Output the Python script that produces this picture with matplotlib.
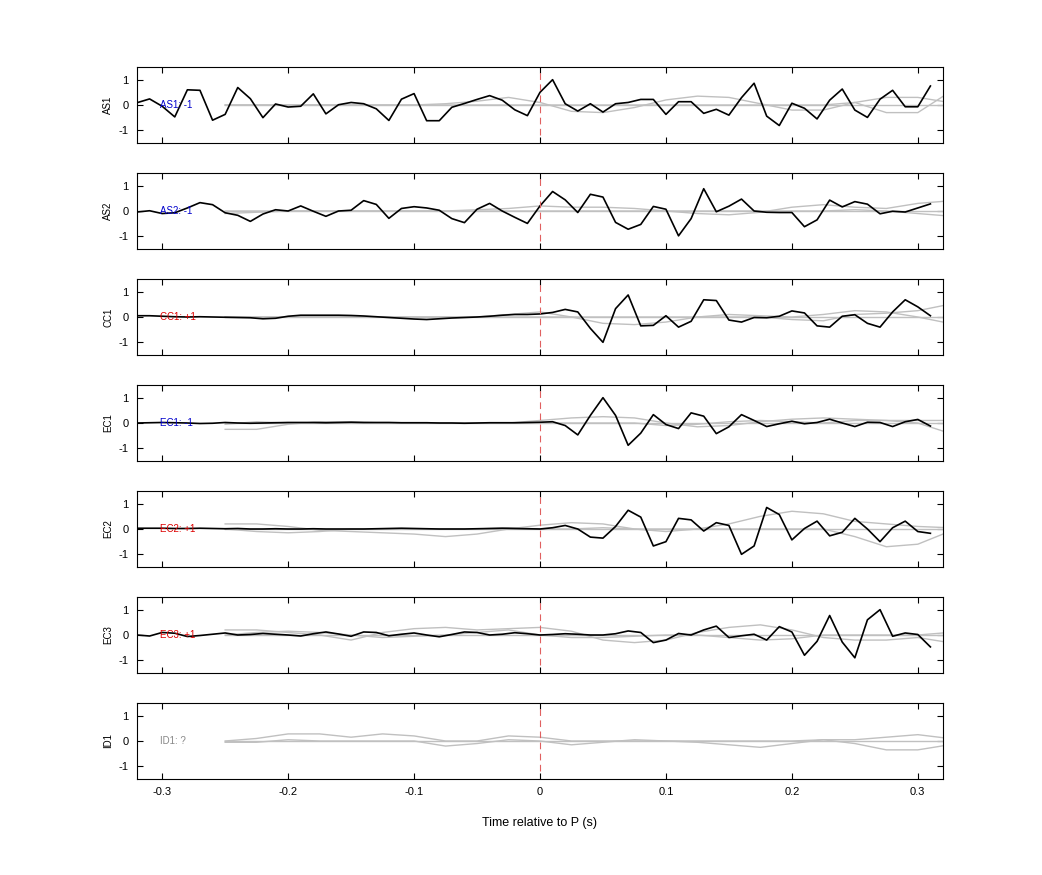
import numpy as np
import matplotlib
matplotlib.use("Agg")
import matplotlib.pyplot as plt

plt.rcParams['font.family'] = ['Liberation Sans', 'DejaVu Sans']
plt.rcParams['axes.unicode_minus'] = False

t = np.round(np.arange(-32, 32) * 0.01, 2)          # black trace samples
tg = np.round(np.arange(-10, 14) * 0.025, 3)        # gray trace samples

stations = ["AS1", "AS2", "CC1", "EC1", "EC2", "EC3", "ID1"]
polarity = ["-1", "-1", "+1", "-1", "+1", "+1", "?"]
label_colors = ["#0000cc", "#0000cc", "#dd0000", "#0000cc", "#dd0000", "#dd0000", "#888888"]

as1 = [0.09, 0.24, -0.05, -0.47, 0.6, 0.58, -0.6, -0.37, 0.69, 0.25, -0.5, 0.04, -0.08, -0.05, 0.44, -0.35,
       0.01, 0.1, 0.05, -0.15, -0.61, 0.23, 0.45, -0.62, -0.62, -0.09, 0.06, 0.22, 0.37, 0.19, -0.19, -0.42,
       0.5, 1.0, 0.05, -0.24, 0.05, -0.28, 0.05, 0.1, 0.22, 0.22, -0.37, 0.13, 0.13, -0.33, -0.17, -0.4,
       0.29, 0.86, -0.44, -0.81, 0.07, -0.13, -0.55, 0.19, 0.63, -0.2, -0.49, 0.23, 0.58, -0.07, -0.07, 0.75]
as2 = [-0.04, 0.01, -0.1, -0.07, 0.12, 0.33, 0.25, -0.07, -0.17, -0.41, -0.12, 0.05, 0.0, 0.2, -0.01, -0.21,
       0.0, 0.03, 0.41, 0.26, -0.29, 0.1, 0.17, 0.12, 0.03, -0.3, -0.46, 0.07, 0.3, 0.0, -0.25, -0.49,
       0.2, 0.77, 0.44, -0.06, 0.66, 0.55, -0.45, -0.72, -0.53, 0.18, 0.07, -0.98, -0.3, 0.88, -0.03, 0.19,
       0.47, 0.0, -0.05, -0.06, -0.06, -0.62, -0.35, 0.43, 0.16, 0.37, 0.27, -0.11, -0.01, -0.04, 0.12, 0.28]
cc1 = [0.05, 0.05, 0.03, 0.01, 0.0, 0.01, 0.0, -0.01, -0.02, -0.03, -0.07, -0.05, 0.03, 0.07, 0.07, 0.07,
       0.07, 0.06, 0.04, 0.01, -0.02, -0.05, -0.08, -0.1, -0.07, -0.04, -0.02, 0.0, 0.03, 0.07, 0.1, 0.1,
       0.12, 0.18, 0.3, 0.2, -0.45, -1.0, 0.33, 0.87, -0.35, -0.33, 0.05, -0.4, -0.17, 0.68, 0.65, -0.12,
       -0.2, -0.02, -0.03, 0.03, 0.24, 0.16, -0.35, -0.4, 0.03, 0.09, -0.25, -0.4, 0.2, 0.68, 0.4, 0.05]
ec1 = [0.0, 0.01, 0.02, 0.01, 0.0, -0.02, -0.01, 0.02, 0.0, -0.01, 0.0, 0.01, 0.02, 0.02, 0.02, 0.01,
       0.02, 0.03, 0.02, 0.02, 0.02, 0.01, 0.01, 0.01, 0.0, 0.0, -0.01, 0.0, 0.01, 0.01, 0.01, 0.02,
       0.03, 0.05, -0.1, -0.47, 0.3, 1.0, 0.3, -0.88, -0.4, 0.33, -0.06, -0.22, 0.4, 0.27, -0.42, -0.15,
       0.33, 0.1, -0.14, -0.03, 0.07, -0.03, 0.02, 0.15, 0.0, -0.14, 0.03, 0.02, -0.14, 0.05, 0.14, -0.12]
ec2 = [0.03, 0.03, 0.03, 0.02, 0.02, 0.03, 0.02, 0.01, 0.02, 0.0, 0.0, 0.01, 0.0, 0.0, 0.01, 0.0,
       0.0, 0.0, 0.0, 0.01, 0.02, 0.03, 0.02, 0.01, 0.0, 0.0, 0.0, 0.01, 0.02, 0.03, 0.02, 0.01,
       0.0, 0.05, 0.14, 0.0, -0.32, -0.36, 0.1, 0.74, 0.47, -0.67, -0.5, 0.42, 0.36, -0.08, 0.25, 0.14,
       -1.0, -0.67, 0.85, 0.57, -0.43, 0.02, 0.31, -0.27, -0.13, 0.42, 0.0, -0.5, 0.05, 0.31, -0.1, -0.17]
ec3 = [0.0, -0.04, 0.1, 0.07, -0.06, -0.02, 0.03, 0.08, 0.0, 0.02, 0.06, 0.03, 0.0, -0.04, 0.05, 0.12,
       0.04, -0.05, 0.12, 0.1, -0.03, 0.03, 0.08, 0.0, -0.07, 0.02, 0.12, 0.1, 0.0, 0.03, 0.09, 0.05,
       0.0, 0.02, 0.05, 0.03, 0.0, 0.0, 0.05, 0.16, 0.1, -0.3, -0.2, 0.06, 0.0, 0.2, 0.35, -0.1,
       -0.03, 0.03, -0.2, 0.33, 0.12, -0.8, -0.25, 0.77, -0.28, -0.9, 0.6, 1.0, -0.05, 0.08, 0.02, -0.47]
black = [as1, as2, cc1, ec1, ec2, ec3, None]

gray_a = [
    [0, 0, 0, 0, 0, 0, 0, 0.05, 0.15, 0.3, 0.1, -0.25, -0.3, -0.1, 0.2, 0.35, 0.3, 0.05, -0.2, -0.2, 0.1, 0.3, 0.3, 0.1],
    [-0.1, -0.05, 0, 0, 0, 0, 0, 0, 0.05, 0.1, 0.2, 0.15, 0.15, 0.1, 0.0, -0.1, -0.15, -0.05, 0.15, 0.25, 0.15, 0.1, 0.3, 0.4],
    [0, 0, 0, 0, 0, 0, 0, 0, 0, 0.1, 0.2, 0.0, -0.25, -0.3, -0.2, 0.0, 0.1, 0.05, 0.0, 0.1, 0.25, 0.2, 0.0, -0.25],
    [-0.25, -0.25, -0.05, 0.05, 0.05, 0, 0, 0, 0, 0, 0.1, 0.2, 0.25, 0.2, 0.0, -0.15, -0.1, 0.05, 0.15, 0.2, 0.15, 0.1, 0.0, -0.4],
    [0.2, 0.2, 0.1, -0.05, -0.1, -0.15, -0.2, -0.3, -0.2, 0.0, 0.15, 0.25, 0.2, 0.0, -0.1, 0.0, 0.2, 0.5, 0.7, 0.6, 0.3, 0.2, 0.1, 0.05],
    [0.2, 0.2, 0.1, 0.0, -0.2, 0.1, 0.25, 0.3, 0.2, 0.25, 0.3, 0.15, -0.2, -0.3, -0.2, 0.1, 0.3, 0.4, 0.2, -0.1, -0.2, -0.2, -0.1, -0.3],
    [0, 0.1, 0.28, 0.28, 0.15, 0.28, 0.2, 0.0, 0.0, 0.2, 0.15, 0, 0, 0, 0, -0.05, -0.15, -0.25, -0.1, 0.05, 0.05, 0.15, 0.25, 0.1],
]
gray_b = [
    [0, 0, 0, 0, 0, 0, 0, 0, 0, 0, 0, 0, 0, 0, 0, 0, 0, 0, 0, 0, 0.1, -0.3, -0.3, 0.5],
    [0, 0, 0, 0, 0, 0, 0, 0, 0, 0, 0, 0, 0, 0, 0, 0, 0, 0, 0, 0, 0.05, 0.0, -0.1, -0.2],
    [0, 0, 0, 0, 0, 0, 0, 0, 0, 0, 0, 0, 0, 0, 0, 0, 0, 0, -0.1, -0.15, 0.1, 0.15, 0.25, 0.5],
    [-0.05, 0.05, 0.0, 0, 0, 0, 0, 0, 0, 0, 0, 0, 0, 0, -0.1, -0.05, 0.05, 0.1, 0.05, 0, 0.1, 0.1, 0.1, 0.1],
    [0, -0.1, -0.15, -0.1, 0, 0, 0, 0, 0, 0.05, 0.0, 0.0, 0.05, 0.0, 0, 0, 0, 0, 0, 0, -0.3, -0.7, -0.6, -0.1],
    [0, 0.1, 0.15, 0.1, 0, -0.1, -0.05, 0, 0.1, 0.2, 0.0, -0.1, -0.1, -0.05, 0, 0, -0.1, -0.2, -0.15, 0, 0, 0, 0, 0.1],
    [-0.05, -0.05, 0.05, 0.0, 0.0, 0.0, 0.0, -0.2, -0.1, 0.05, 0, -0.15, -0.05, 0.05, 0.0, 0, 0, 0, 0, 0.05, -0.1, -0.35, -0.35, -0.15],
]
flat = [0.0] * len(tg)

fig = plt.figure(figsize=(10.42, 8.75), dpi=100)
W, H = 1042, 875
left, right = 137, 943
for i, name in enumerate(stations):
    top = 67 + i * 106
    ax = fig.add_axes([left / W, 1 - (top + 76) / H, (right - left) / W, 76 / H])
    for g in (flat, gray_b[i], gray_a[i]):
        ax.plot(tg, g, color="#c0c0c0", lw=1)
    if black[i] is not None:
        ax.plot(t, black[i], color="black", lw=1.2)
    ax.plot([0, 0], [-1.2, 1.35], color="#e06060", lw=0.8, dashes=(6, 4))
    ax.text(-0.302, 0, f"{name}: {polarity[i]}", color=label_colors[i], fontsize=7, va="center")
    ax.set_xlim(-0.32, 0.32)
    ax.set_ylim(-1.5, 1.5)
    ax.set_yticks([-1, 0, 1])
    ax.set_xticks([-0.3, -0.2, -0.1, 0, 0.1, 0.2, 0.3])
    ax.tick_params(direction="in", top=True, right=True, labelsize=8, length=4, pad=6)
    ax.set_ylabel(name, fontsize=7)
    if i < len(stations) - 1:
        ax.set_xticklabels([])
    else:
        ax.set_xticklabels(["-0.3", "-0.2", "-0.1", "0", "0.1", "0.2", "0.3"])
        ax.set_xlabel("Time relative to P (s)", fontsize=9, labelpad=14)

fig.savefig("out.png", dpi=100)
